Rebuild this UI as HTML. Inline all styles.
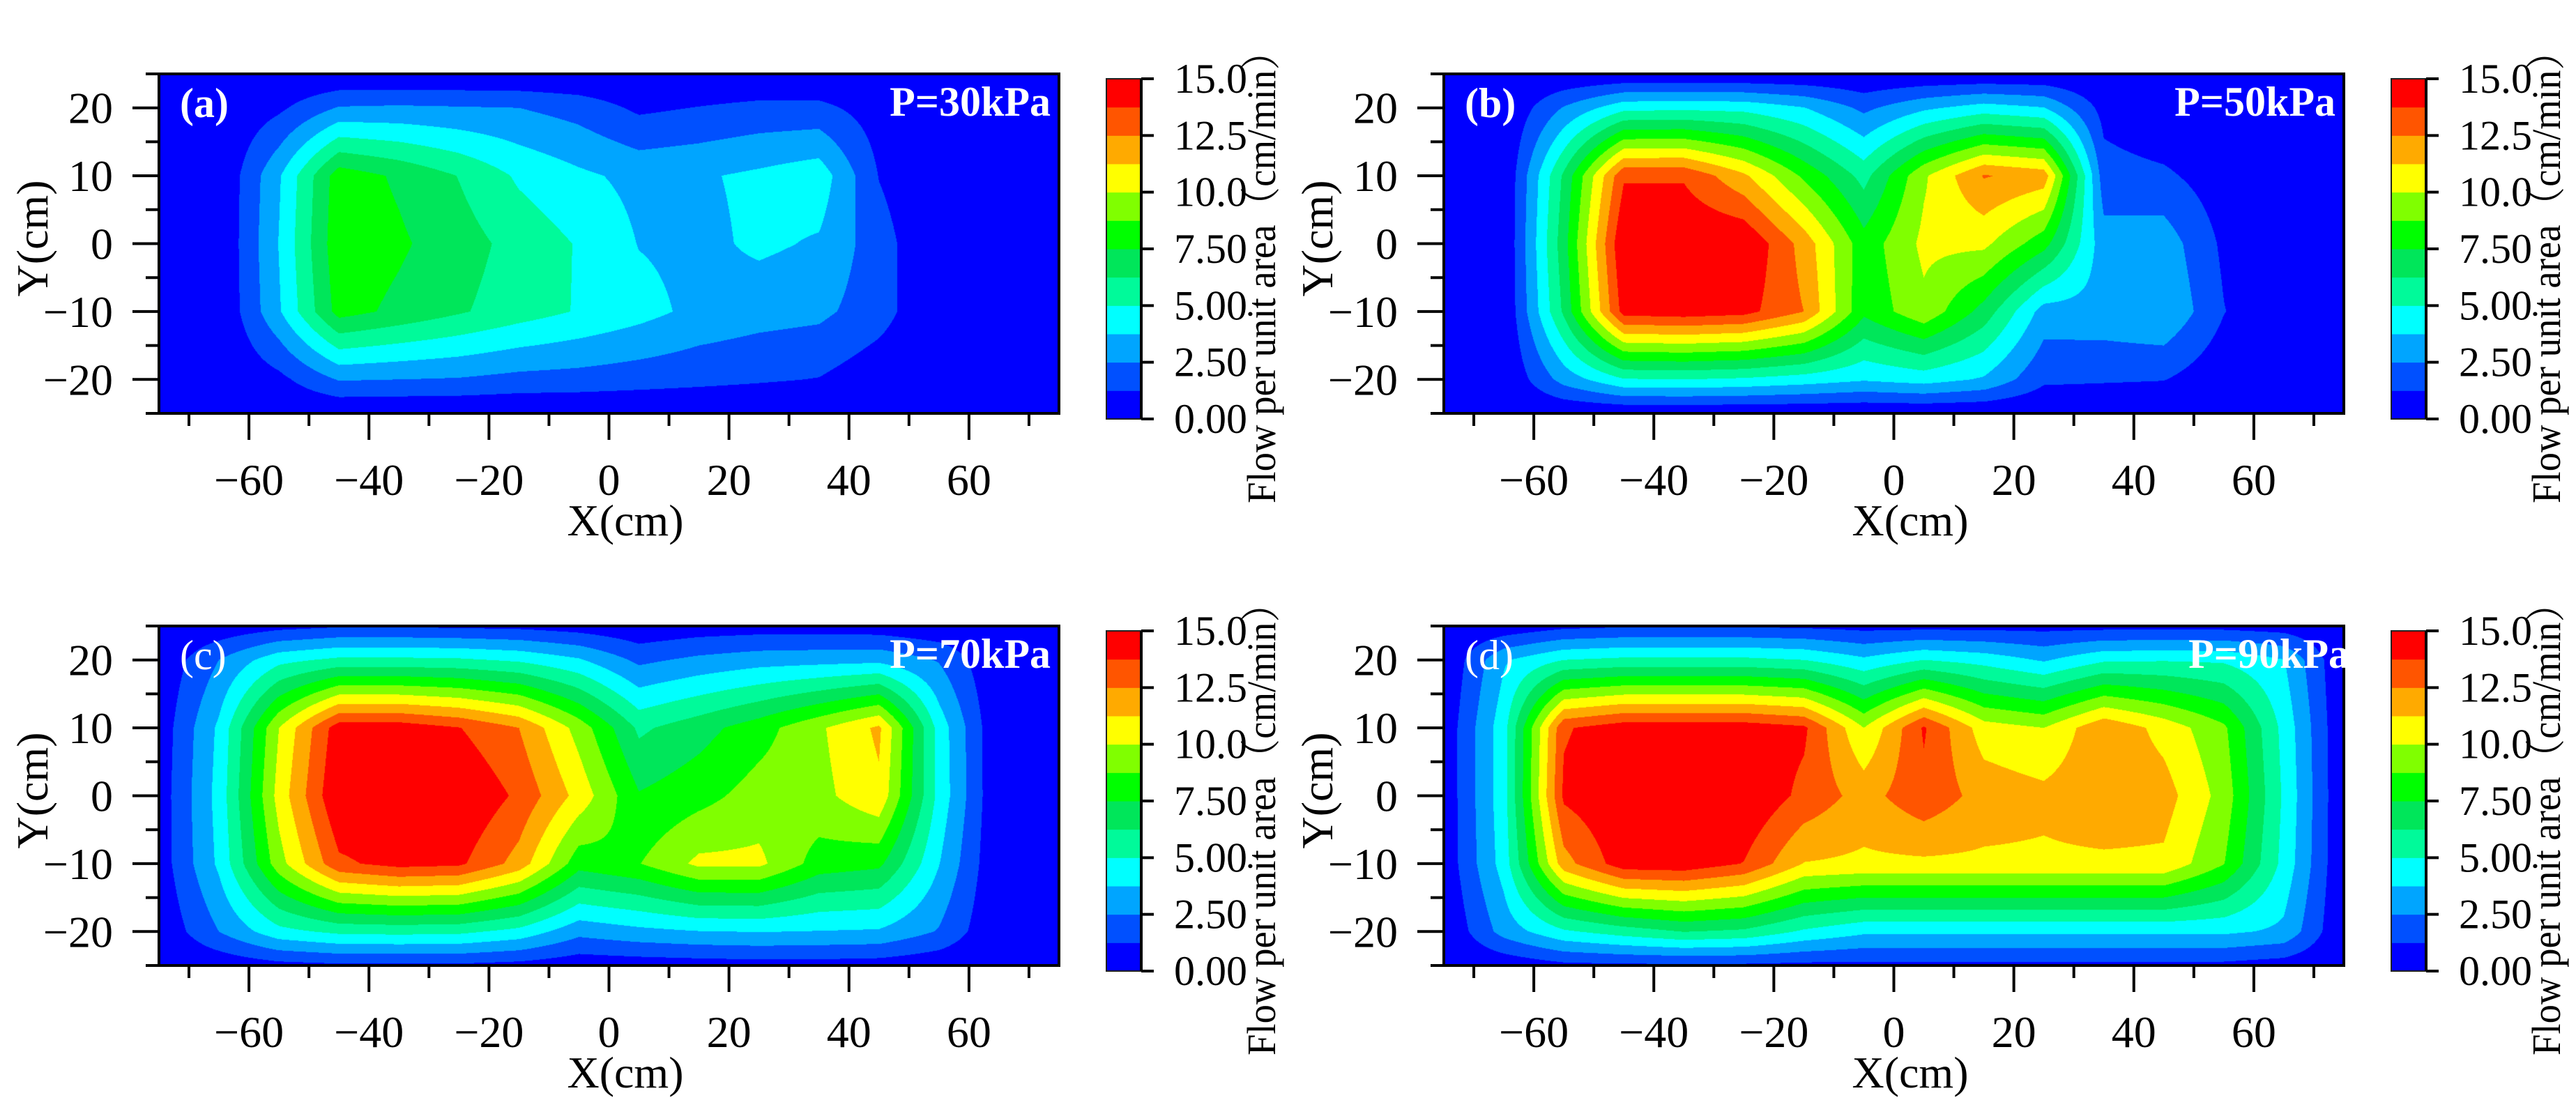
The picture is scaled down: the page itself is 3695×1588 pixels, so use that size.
<!DOCTYPE html>
<html><head><meta charset="utf-8">
<style>
html,body{margin:0;padding:0;background:#fff;}
#wrap{position:relative;width:3695px;height:1588px;overflow:hidden;background:#fff;}
canvas{position:absolute;}
svg{position:absolute;left:0;top:0;}
text{font-family:"Liberation Serif","Noto Serif CJK SC",serif;}
</style></head>
<body>
<div id="wrap">
<canvas id="cv-a"></canvas>
<canvas id="cv-b"></canvas>
<canvas id="cv-c"></canvas>
<canvas id="cv-d"></canvas>
<svg id="svg" width="3695" height="1588" viewBox="0 0 3695 1588"></svg>
</div>
<script>
// ---- data ----
const xNodes = [-75,-65,-55,-45,-35,-25,-15,-5,5,15,25,35,45,55,65,75];
const yNodes = [25,20,10,0,-10,-20,-25];
const levels = [0,1.25,2.5,3.75,5,6.25,7.5,8.75,10,11.25,12.5,13.75,15];
const levelColors = ["#0000ff","#0050ff","#00a5ff","#00ffff","#00fa9a","#00e65a","#00ff00","#80ff00","#ffff00","#ffaa00","#ff5500","#ff0000"];
const gridA = [
 [0,0,0,0,0,0,0,0,0,0,0,0,0,0,0,0],
 [0,0,1.0,2.6,2.7,2.6,2.5,2.0,1.0,1.3,1.6,1.6,0.6,0,0,0],
 [0,0,3.6,8.2,7.3,6.2,4.8,4.0,3.4,3.6,4.0,4.5,1.2,0,0,0],
 [0,0,3.8,8.4,7.7,6.8,5.8,4.9,3.7,3.4,4.0,3.6,1.8,0,0,0],
 [0,0,3.6,8.0,7.2,6.4,5.6,4.9,4.2,3.4,3.0,2.8,1.8,0,0,0],
 [0,0,0.9,2.6,2.5,2.4,2.1,2.0,1.8,1.6,1.4,1.2,0.4,0,0,0],
 [0,0,0,0,0,0,0,0,0,0,0,0,0,0,0,0]];
const gridB = [
 [0,0,0,0,0,0,0,0,0,0,0,0,0,0,0,0],
 [0,0,2.6,4.6,4.7,4.6,3.8,2.2,3.5,4.3,3.8,0.8,0,0,0,0],
 [0,0,6.5,13.6,13.6,11.5,8.5,5.8,9.8,12.6,12.0,1.8,1.5,0.5,0,0],
 [0,0,7,15,15,15,12,8,10.3,10.3,8,3,3.2,1.0,0,0],
 [0,0,6.5,14.3,14.5,14.2,12.5,7.8,9.7,7.0,3.2,3.3,3.7,1.3,0,0],
 [0,0,3.0,4.9,5.0,4.8,4.4,3.9,4.3,3.6,1.5,1.4,1.3,0.3,0,0],
 [0,0,0,0,0,0,0,0,0,0,0,0,0,0,0,0]];
const gridC = [
 [0,0.3,0.8,1.1,1.1,1.0,0.9,0.6,0.2,0.5,0.6,0.6,0.5,0.2,0,0],
 [0.2,2.5,4.6,5.3,5.3,5.2,4.8,3.9,2.2,2.8,3.2,3.3,3.4,2.4,0,0],
 [0.4,4,10,14.5,14.5,13.8,12.5,9.5,6,7,8.2,9.8,11.5,4.5,0,0],
 [0.5,4.2,10.5,15,15,15,13.5,10.8,7.6,8.3,9.3,9.6,11,4.6,0,0],
 [0.5,4,9.5,13.5,14.2,14,12,8,8.7,10.3,10.3,8.2,7.8,3.8,0,0],
 [0.2,2.5,4.6,5.3,5.4,5.3,4.6,2.9,3.4,3.7,3.8,3.7,3.6,2.4,0,0],
 [0,0.3,0.8,1.0,1.0,1.0,0.8,0.4,0.5,0.6,0.7,0.7,0.6,0.3,0,0]];
const gridD = [
 [0,0.3,0.9,1.1,1.1,1.1,1.0,0.8,0.8,0.8,0.8,0.8,0.8,0.8,0.6,0],
 [0,3.6,5.0,5.3,5.3,5.3,5.0,4.0,5.0,4.5,3.6,4.8,4.9,4.8,3.8,0],
 [0.3,4.5,13.6,14.5,14.5,14.5,14,10,13.9,10.6,10,12.3,10.8,9,4.6,0],
 [0.3,4.5,14,15,15,15,13.4,12.0,13.4,12.0,11.6,12.2,11.8,9.5,4.8,0],
 [0.3,4.3,12,14.5,14.6,13.7,11.2,11.0,11.0,11.0,11.0,11.0,11.0,8.8,4.6,0],
 [0,3.0,4.8,5.6,6.3,6.0,4.8,4.0,4.0,4.0,4.0,4.0,4.0,4.0,3.5,0],
 [0,0.3,0.9,1.0,1.0,1.0,0.9,0.9,0.9,0.9,0.9,0.9,0.9,0.9,0.6,0]];
const xMajorTicks = [-60,-40,-20,0,20,40,60];
const xMinorTicks = [-70,-50,-30,-10,10,30,50,70];
const yMajorTicks = [20,10,0,-10,-20];
const yMinorTicks = [25,15,5,-5,-15,-25];
const cbTickValues = [0,2.5,5,7.5,10,12.5,15];
const cbTickLabels = ["0.00","2.50","5.00","7.50","10.0","12.5","15.0"];
const panelLetters = ["(a)","(b)","(c)","(d)"];
const panelPressures = ["P=30kPa","P=50kPa","P=70kPa","P=90kPa"];

// ---- layout ----
const W = 1291, H = 487;
const panels = [
 {id:"a", left:228, top:106, grid:gridA, bold:true},
 {id:"b", left:2071, top:106, grid:gridB, bold:true},
 {id:"c", left:228, top:898, grid:gridC, bold:false},
 {id:"d", left:2071, top:898, grid:gridD, bold:false}
];
const XMIN=-75, XMAX=75, YMIN=-25, YMAX=25, VMAX=15;
function xScale(p,x){return p.left + (x-XMIN)/(XMAX-XMIN)*W;}
function yScale(p,y){return p.top + (YMAX-y)/(YMAX-YMIN)*H;}

function field(grid,x,y){
  let i=0; while(i<xNodes.length-2 && x>xNodes[i+1]) i++;
  let j=0; while(j<yNodes.length-2 && y<yNodes[j+1]) j++;
  const tx=Math.min(1,Math.max(0,(x-xNodes[i])/(xNodes[i+1]-xNodes[i])));
  const ty=Math.min(1,Math.max(0,(y-yNodes[j])/(yNodes[j+1]-yNodes[j])));
  const a=grid[j][i], b=grid[j][i+1], c=grid[j+1][i], d=grid[j+1][i+1];
  return (a*(1-tx)+b*tx)*(1-ty)+(c*(1-tx)+d*tx)*ty;
}
function hexRgb(h){return [parseInt(h.substr(1,2),16),parseInt(h.substr(3,2),16),parseInt(h.substr(5,2),16)];}
const rgbLevels = levelColors.map(hexRgb);
function levelIndex(v){
  let k=0; for(let i=1;i<levels.length-1;i++){ if(v>=levels[i]) k=i; }
  return k;
}

const NS="http://www.w3.org/2000/svg";
const svg=document.getElementById("svg");
function mk(tag,attrs,parent){const e=document.createElementNS(NS,tag);for(const k in attrs)e.setAttribute(k,attrs[k]);(parent||svg).appendChild(e);return e;}

panels.forEach((p,pi)=>{
  const cv=document.getElementById("cv-"+p.id);
  cv.width=W; cv.height=H; cv.style.left=p.left+"px"; cv.style.top=p.top+"px";
  const ctx=cv.getContext("2d"); const img=ctx.createImageData(W,H);
  for(let py=0;py<H;py++){
    const y=YMAX-(py+0.5)/H*(YMAX-YMIN);
    for(let px=0;px<W;px++){
      const x=XMIN+(px+0.5)/W*(XMAX-XMIN);
      const c=rgbLevels[levelIndex(field(p.grid,x,y))];
      const o=(py*W+px)*4; img.data[o]=c[0];img.data[o+1]=c[1];img.data[o+2]=c[2];img.data[o+3]=255;
    }
  }
  ctx.putImageData(img,0,0);

  const g=mk("g",{});
  
  
  const fr=mk("rect",{x:p.left,y:p.top,width:W,height:H,fill:"none",stroke:"#000","stroke-width":4},g);
  
  
  xMajorTicks.forEach(v=>{
    const X=xScale(p,v);
    const t=mk("line",{x1:X,x2:X,y1:p.top+H,y2:p.top+H+38,stroke:"#000","stroke-width":4},g);
    
    
    const lb=mk("text",{x:X,y:p.top+H+117,"font-size":64,"text-anchor":"middle",fill:"#000"},g);
    lb.textContent=(v<0?"\u2212"+(-v):String(v));
    
    
  });
  xMinorTicks.forEach(v=>{
    const X=xScale(p,v);
    const t=mk("line",{x1:X,x2:X,y1:p.top+H,y2:p.top+H+18,stroke:"#000","stroke-width":4},g);
    
    
  });
  yMajorTicks.forEach(v=>{
    const Y=yScale(p,v);
    const t=mk("line",{x1:p.left-38,x2:p.left,y1:Y,y2:Y,stroke:"#000","stroke-width":4},g);
    
    
    const lb=mk("text",{x:p.left-66,y:Y+22,"font-size":64,"text-anchor":"end",fill:"#000"},g);
    lb.textContent=(v<0?"\u2212"+(-v):String(v));
    
    
  });
  yMinorTicks.forEach(v=>{
    const Y=yScale(p,v);
    const t=mk("line",{x1:p.left-19,x2:p.left,y1:Y,y2:Y,stroke:"#000","stroke-width":4},g);
    
    
  });
  const xt=mk("text",{x:p.left+669,y:p.top+H+175,"font-size":64,"text-anchor":"middle",fill:"#000"},g);
  xt.textContent="X(cm)";
  
  
  const ycx=p.left-180, ycy=p.top+236;
  const yt=mk("text",{x:ycx,y:ycy+20,"font-size":64,"text-anchor":"middle",fill:"#000",transform:"rotate(-90 "+ycx+" "+ycy+")"},g);
  yt.textContent="Y(cm)";
  
  
  const pl=mk("text",{x:p.left+30,y:p.top+62,"font-size":60,"font-weight":p.bold?"bold":"normal",fill:"#fff"},g);
  pl.textContent=panelLetters[pi];
  
  
  const pp=mk("text",{x:p.left+W-(pi===3?-8:12),y:p.top+60,"font-size":60,"font-weight":"bold","text-anchor":"end",fill:"#fff"},g);
  pp.textContent=panelPressures[pi];
  
  
  const cbx=p.left+1359, cby=p.top+7, cbw=50, cbh=488;
  const cbScale=v=>cby+cbh-(v/VMAX)*cbh;
  for(let k=0;k<levelColors.length;k++){
    const y1=cbScale(levels[k+1]), y0=cbScale(levels[k]);
    const r=mk("rect",{x:cbx,y:y1,width:cbw,height:y0-y1+0.5,fill:levelColors[k]},g);
    
    
  }
  const cbf=mk("rect",{x:cbx,y:cby,width:cbw,height:cbh,fill:"none",stroke:"#222","stroke-width":2},g);
  
  
  const cbl=mk("line",{x1:cbx+cbw,x2:cbx+cbw,y1:cby,y2:cby+cbh,stroke:"#000","stroke-width":4},g);
  
  
  cbTickValues.forEach((v,i)=>{
    const Y=cbScale(v);
    const t=mk("line",{x1:cbx+cbw,x2:cbx+cbw+18,y1:Y,y2:Y,stroke:"#000","stroke-width":4},g);
    
    
    const lb=mk("text",{x:cbx+97,y:Y+20,"font-size":60,fill:"#000"},g);
    lb.textContent=cbTickLabels[i];
    
    
  });
  const tcx=p.left+1582, tcy=p.top+278;
  const ct=mk("text",{x:tcx,y:tcy+19,"font-size":58,"text-anchor":"middle",fill:"#000",textLength:676,lengthAdjust:"spacingAndGlyphs",transform:"rotate(-90 "+tcx+" "+tcy+")"},g);
  ct.textContent="Flow per unit area\uFF08cm/min\uFF09";
  
  
});
</script>
</body></html>
